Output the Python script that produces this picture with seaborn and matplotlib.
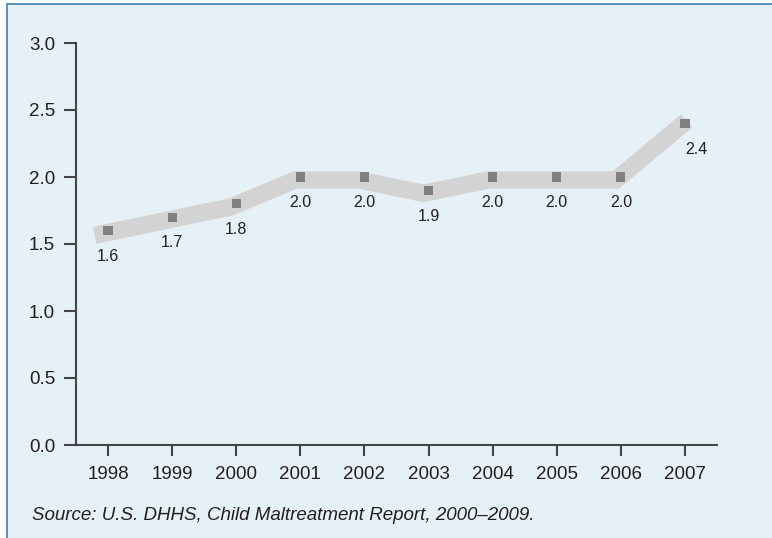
import matplotlib
matplotlib.use('Agg')
import matplotlib.pyplot as plt
import matplotlib.patches as mpatches
import matplotlib.transforms as mtransforms
import pandas as pd
import seaborn as sns

# DATA ------------
years = [1998, 1999, 2000, 2001, 2002, 2003, 2004, 2005, 2006, 2007]
rates = [1.6, 1.7, 1.8, 2.0, 2.0, 1.9, 2.0, 2.0, 2.0, 2.4]
y_ticks = [0.0, 0.5, 1.0, 1.5, 2.0, 2.5, 3.0]
source_text = 'Source: U.S. DHHS, Child Maltreatment Report, 2000\u20132009.'

df = pd.DataFrame({'year': years, 'rate': rates})

BG = '#e5f0f7'
BAND = '#d3d3d3'
MARKER = '#808080'
AXIS = '#444444'
TEXT = '#231f20'

sns.set_style('white')
plt.rcParams['font.family'] = ['Liberation Sans', 'DejaVu Sans']

fig = plt.figure(figsize=(7.72, 5.38), dpi=100)
fig.patch.set_facecolor('white')
# panel background with the blue frame
frame = mpatches.Rectangle((7 / 772, -0.02), 1.1, 1 - 3.5 / 538 + 0.02,
                           transform=fig.transFigure, facecolor=BG,
                           edgecolor='#4a8ab8', linewidth=1.3, zorder=-5)
fig.patches.append(frame)

ax = fig.add_axes([76 / 772, 1 - 445 / 538, (717 - 76) / 772, (445 - 43) / 538])
ax.set_facecolor('none')
ax.set_zorder(1)

# thick grey band, nudged a little left/down like the original
band_tr = mtransforms.offset_copy(ax.transData, fig=fig, x=-5, y=-3, units='dots')
sns.lineplot(data=df, x='year', y='rate', ax=ax, color=BAND, linewidth=12.5,
             solid_capstyle='projecting', solid_joinstyle='miter',
             transform=band_tr, zorder=2)
sns.scatterplot(data=df, x='year', y='rate', ax=ax, marker='s', s=44,
                color=MARKER, edgecolor='none', zorder=3)

for i, (yr, v) in enumerate(zip(years, rates)):
    dx = 8 if i == len(years) - 1 else 0
    ax.annotate(f'{v:.1f}', (yr, v), xytext=(dx, -18.5), textcoords='offset points',
                ha='center', va='center', fontsize=11.5, color=TEXT)

ax.set_xlim(1997.5, 2007.5)
ax.set_ylim(0, 3.0)
ax.set_xticks(years)
ax.set_xticklabels([str(y) for y in years])
ax.set_yticks(y_ticks)
ax.set_yticklabels([f'{t:.1f}' for t in y_ticks])
ax.set_xlabel('')
ax.set_ylabel('')

for side in ['top', 'right']:
    ax.spines[side].set_visible(False)
for side in ['left', 'bottom']:
    ax.spines[side].set_color(AXIS)
    ax.spines[side].set_linewidth(1.5)

ax.tick_params(axis='y', direction='out', length=9, width=1.5, color=AXIS,
               labelsize=13.5, labelcolor=TEXT, pad=6, left=True)
ax.tick_params(axis='x', direction='out', length=8, width=1.5, color=AXIS,
               labelsize=13.5, labelcolor=TEXT, pad=7, bottom=True)
ax.grid(False)

fig.text(32 / 772, 1 - 515 / 538, source_text, fontsize=13.5, style='italic',
         color=TEXT, ha='left', va='center')

fig.savefig('out.png', dpi=100, facecolor=fig.get_facecolor())
